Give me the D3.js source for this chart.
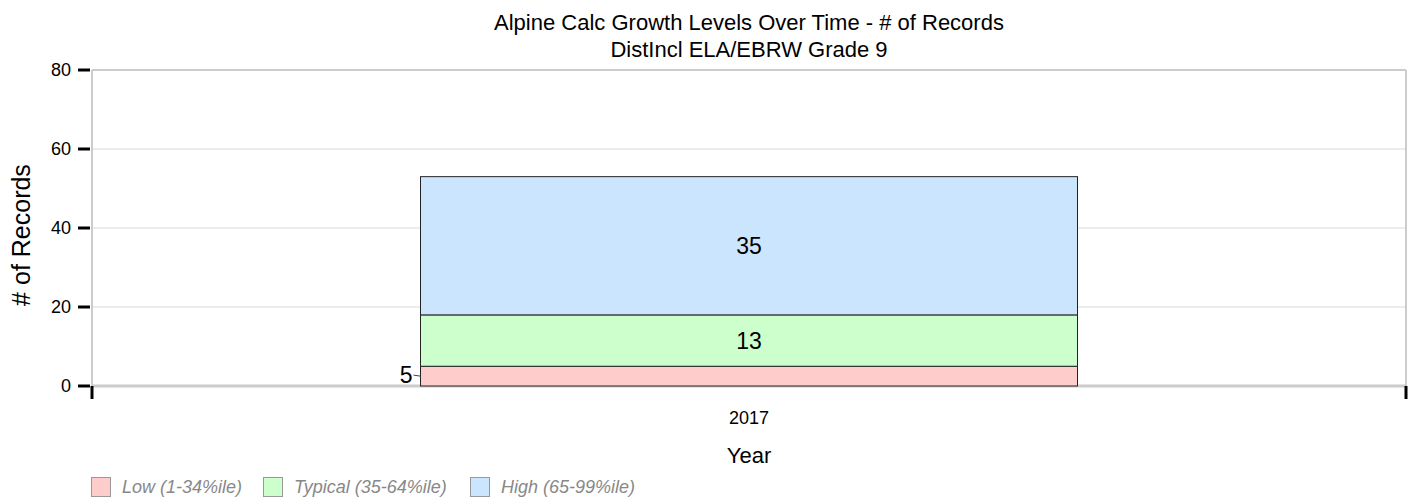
<!DOCTYPE html>
<html>
<head>
<meta charset="utf-8">
<script src="https://cdn.jsdelivr.net/npm/d3@7"></script>
<style>
  body { margin: 0; background: #fff; font-family: "Liberation Sans", Arial, sans-serif; }
</style>
</head>
<body>
<script>
    //chart data
    var years = ["2017"];
    var levels = ["Low (1-34%ile)", "Typical (35-64%ile)", "High (65-99%ile)"];
    var lowCounts = [5];
    var typicalCounts = [13];
    var highCounts = [35];
    var yTicks = [0, 20, 40, 60, 80];
    var levelColors = ["#ffcccc", "#ccffcc", "#cce5ff"];

    window.onload = drawChart();

    function drawChart(){

        var width = 1412,
            height = 501;
        var margin = {left: 92, right: 6, top: 70, bottom: 115};

        var svg = d3.select("body")
            .append("svg")
            .attr("width", width)
            .attr("height", height);

        //build stack rows from arrays
        var rows = years.map(function(y, i){
            return {year: y, low: lowCounts[i], typical: typicalCounts[i], high: highCounts[i]};
        });
        var stack = d3.stack().keys(["low", "typical", "high"])(rows);

        var x = d3.scaleBand()
            .domain(years)
            .range([margin.left, width - margin.right])
            .paddingInner(0)
            .paddingOuter(0.5);

        var y = d3.scaleLinear()
            .domain([0, 80])
            .range([height - margin.bottom, margin.top]);

        //gridlines
        svg.append("g")
            .selectAll("line")
            .data(yTicks.slice(1, 4))
            .enter().append("line")
            .attr("x1", margin.left).attr("x2", width - margin.right)
            .attr("y1", function(d){ return y(d); })
            .attr("y2", function(d){ return y(d); })
            .attr("stroke", "#d9d9d9").attr("stroke-width", 1);

        //plot frame: top, right
        var frame = svg.append("g").attr("stroke", "#cccccc").attr("stroke-width", 2);
        frame.append("line").attr("x1", margin.left).attr("x2", width - margin.right)
            .attr("y1", y(80)).attr("y2", y(80));
        frame.append("line").attr("x1", width - margin.right).attr("x2", width - margin.right)
            .attr("y1", y(80)).attr("y2", y(0));

        //bars
        svg.append("g")
            .selectAll("g")
            .data(stack)
            .enter().append("g")
            .attr("fill", function(d, i){ return levelColors[i]; })
            .selectAll("rect")
            .data(function(d){ return d; })
            .enter().append("rect")
            .attr("x", function(d){ return x(d.data.year); })
            .attr("width", x.bandwidth())
            .attr("y", function(d){ return y(d[1]); })
            .attr("height", function(d){ return y(d[0]) - y(d[1]); })
            .attr("stroke", "#222")
            .attr("stroke-width", 1);

        //left and bottom axis lines
        frame.append("line").attr("x1", margin.left).attr("x2", margin.left)
            .attr("y1", y(80)).attr("y2", y(0));
        frame.append("line").attr("x1", margin.left).attr("x2", width - margin.right)
            .attr("y1", y(0)).attr("y2", y(0)).attr("stroke-width", 3);

        //y axis ticks and labels
        var yAxis = svg.append("g");
        yAxis.selectAll("line")
            .data(yTicks)
            .enter().append("line")
            .attr("x1", margin.left - 14).attr("x2", margin.left - 2)
            .attr("y1", function(d){ return y(d); })
            .attr("y2", function(d){ return y(d); })
            .attr("stroke", "#000").attr("stroke-width", 3);
        yAxis.selectAll("text")
            .data(yTicks)
            .enter().append("text")
            .attr("x", margin.left - 21)
            .attr("y", function(d){ return y(d); })
            .attr("dy", "0.35em")
            .attr("text-anchor", "end")
            .attr("font-size", 18)
            .text(function(d){ return d; });

        //x axis end ticks
        svg.append("g")
            .selectAll("line")
            .data([margin.left, width - margin.right])
            .enter().append("line")
            .attr("x1", function(d){ return d; }).attr("x2", function(d){ return d; })
            .attr("y1", y(0)).attr("y2", y(0) + 13)
            .attr("stroke", "#000").attr("stroke-width", 3);

        svg.append("g")
            .selectAll("text")
            .data(years)
            .enter().append("text")
            .attr("x", function(d){ return x(d) + x.bandwidth() / 2; })
            .attr("y", 424)
            .attr("text-anchor", "middle")
            .attr("font-size", 18)
            .text(function(d){ return d; });

        //segment labels
        var segLabels = svg.append("g").attr("font-size", 23);
        stack.forEach(function(layer){
            layer.forEach(function(d){
                var v = d[1] - d[0];
                var cy = (y(d[0]) + y(d[1])) / 2;
                if (y(d[0]) - y(d[1]) < 26) {
                    //small segment: label outside left with leader
                    var bx = x(d.data.year);
                    segLabels.append("line")
                        .attr("x1", bx - 7).attr("x2", bx)
                        .attr("y1", cy - 1).attr("y2", cy)
                        .attr("stroke", "#444").attr("stroke-width", 1);
                    segLabels.append("text")
                        .attr("x", bx - 8).attr("y", cy - 1)
                        .attr("dy", "0.35em")
                        .attr("text-anchor", "end")
                        .text(v);
                } else {
                    segLabels.append("text")
                        .attr("x", x(d.data.year) + x.bandwidth() / 2)
                        .attr("y", cy)
                        .attr("dy", "0.35em")
                        .attr("text-anchor", "middle")
                        .text(v);
                }
            });
        });

        //title
        var title = svg.append("text")
            .attr("text-anchor", "middle")
            .attr("font-size", 22);
        title.append("tspan").attr("x", 749).attr("y", 30)
            .text("Alpine Calc Growth Levels Over Time - # of Records");
        title.append("tspan").attr("x", 749).attr("y", 57)
            .text("DistIncl ELA/EBRW Grade 9");

        //axis titles
        svg.append("text")
            .attr("x", 749).attr("y", 463)
            .attr("text-anchor", "middle")
            .attr("font-size", 22)
            .text("Year");
        svg.append("text")
            .attr("transform", "translate(30,235) rotate(-90)")
            .attr("text-anchor", "middle")
            .attr("font-size", 25)
            .text("# of Records");

        //legend
        var lx = [91, 263, 470];
        var legend = svg.append("g");
        levels.forEach(function(name, i){
            legend.append("rect")
                .attr("x", lx[i] + 0.5).attr("y", 477.5)
                .attr("width", 19).attr("height", 19)
                .attr("fill", levelColors[i])
                .attr("stroke", "#999").attr("stroke-width", 1);
            legend.append("text")
                .attr("x", lx[i] + 31).attr("y", 487)
                .attr("dy", "0.35em")
                .attr("font-size", 18)
                .attr("font-style", "italic")
                .attr("fill", "#888")
                .text(name);
        });
    }
</script>
</body>
</html>
